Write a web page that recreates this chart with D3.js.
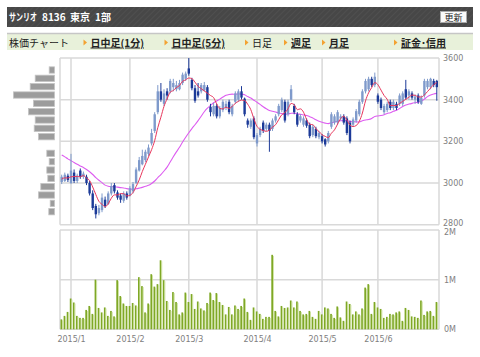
<!DOCTYPE html>
<html>
<head>
<meta charset="utf-8">
<script src="https://cdn.jsdelivr.net/npm/d3@7"></script>
<style>
  body { margin: 0; background: #fff; }
  svg { display: block; }
</style>
</head>
<body>
<div id="chart"></div>
<script>
// daily prices, 2014/12/26 .. 2015/6/26 (one entry per trading day)
var open = [3005,3010,3035,3000,3050,3010,3060,3030,3030,3000,
  2950,2890,2855,2870,2920,2900,2950,2990,2955,2940,
  2915,2950,2940,2960,3000,3060,3090,3110,3140,3190,
  3250,3340,3440,3380,3440,3440,3460,3450,3450,3480,
  3500,3550,3495,3455,3440,3440,3445,3460,3366,3330,
  3370,3320,3350,3360,3390,3330,3390,3400,3440,3405,
  3300,3270,3310,3190,3230,3290,3260,3280,3260,3300,
  3330,3350,3390,3330,3400,3370,3330,3300,3280,3300,
  3280,3230,3260,3220,3225,3210,3200,3270,3290,3290,
  3310,3320,3310,3290,3280,3300,3330,3390,3440,3450,
  3500,3470,3420,3400,3340,3350,3390,3360,3380,3380,
  3380,3450,3420,3430,3400,3420,3380,3420,3460,3460,
  3490,3490];
var high = [3040,3050,3045,3140,3065,3045,3070,3055,3040,3010,
  2965,2900,2895,2950,2935,2960,3000,3000,2965,2950,
  2960,2960,2985,3005,3075,3125,3160,3160,3185,3260,
  3340,3470,3480,3450,3455,3500,3500,3490,3495,3530,
  3535,3600,3505,3470,3480,3480,3485,3470,3380,3385,
  3380,3370,3400,3395,3400,3380,3440,3450,3465,3410,
  3310,3310,3320,3240,3270,3300,3290,3290,3310,3330,
  3380,3410,3400,3400,3470,3380,3340,3330,3320,3310,
  3290,3280,3270,3250,3235,3215,3250,3340,3330,3350,
  3330,3330,3320,3300,3315,3355,3400,3450,3500,3510,
  3510,3530,3430,3410,3380,3390,3400,3400,3390,3430,
  3440,3495,3450,3440,3425,3430,3420,3500,3500,3505,
  3500,3495];
var low = [2995,3005,3005,2995,3000,3000,3020,3020,2990,2940,
  2870,2830,2845,2860,2880,2895,2940,2950,2920,2905,
  2905,2920,2935,2950,2995,3055,3085,3100,3130,3180,
  3240,3330,3390,3370,3400,3430,3440,3440,3445,3470,
  3490,3515,3445,3385,3410,3430,3440,3390,3320,3320,
  3310,3310,3340,3350,3330,3320,3380,3390,3400,3320,
  3265,3260,3210,3175,3220,3240,3250,3150,3250,3290,
  3320,3340,3290,3320,3390,3330,3270,3290,3270,3265,
  3215,3220,3215,3210,3190,3175,3190,3260,3280,3280,
  3300,3280,3230,3190,3270,3290,3320,3380,3430,3440,
  3460,3460,3380,3350,3330,3340,3350,3350,3350,3370,
  3370,3400,3400,3400,3380,3380,3375,3410,3450,3450,
  3460,3395];
var close = [3030,3040,3015,3060,3010,3035,3030,3045,3000,2950,
  2880,2850,2880,2930,2890,2950,2985,2960,2930,2920,
  2950,2930,2975,2995,3065,3110,3130,3150,3170,3240,
  3330,3440,3400,3430,3420,3490,3480,3470,3480,3520,
  3525,3525,3455,3395,3420,3470,3470,3400,3340,3370,
  3320,3360,3390,3380,3340,3370,3430,3440,3410,3330,
  3280,3300,3220,3230,3260,3250,3280,3250,3300,3320,
  3370,3400,3300,3390,3450,3340,3280,3320,3310,3275,
  3225,3270,3225,3240,3200,3185,3240,3330,3320,3340,
  3320,3290,3240,3200,3305,3345,3390,3440,3490,3500,
  3470,3510,3390,3360,3370,3380,3360,3390,3360,3420,
  3430,3410,3440,3410,3415,3390,3410,3490,3490,3500,
  3470,3460];
var volume = [200,270,350,620,540,270,230,230,390,470,
  310,1000,430,340,440,270,370,260,990,670,
  520,470,470,530,480,1050,870,340,520,1110,
  860,910,1390,990,570,390,750,550,300,340,
  740,550,710,410,560,420,380,530,740,590,
  730,550,490,300,450,300,480,410,470,620,
  350,190,440,360,310,210,250,250,1500,370,
  260,470,430,440,580,440,560,370,300,310,
  370,250,210,370,300,440,420,310,230,460,
  240,170,560,510,300,360,300,420,840,910,
  310,550,440,410,230,250,310,300,340,360,
  170,430,390,260,250,230,580,290,360,370,
  270,550].map(function(v){ return v * 1000; });
// closes of the 24 sessions before the window (needed for the moving averages)
var prevCloses = [3260,3250,3270,3240,3250,3230,3240,3220,3230,3210,3220,3200,
  3210,3190,3080,3030,2990,2970,2980,2990,3010,3020,3030,3005];

var monthStart = [3, 22, 41, 63, 84, 102];
var monthLabels = ["2015/1","2015/2","2015/3","2015/4","2015/5","2015/6"];
var priceTicks = [2800, 3000, 3200, 3400, 3600];
var volTicks = [0, 1000000, 2000000];

// volume by price (40 yen bins, lower bound)
var profileBins = [3520,3480,3440,3400,3360,3320,3280,3240,3200,3160,3120,3080,3040,3000,2960,2920,2880,2840];
var profileVol = [530,1930,2430,4100,2100,2600,1930,2030,1600,0,770,530,770,670,1370,1600,430,570];

var W = 480, H = 357;
var svg = d3.select("#chart").append("svg")
    .attr("width", W).attr("height", H);

var jp = "'Noto Sans CJK JP', sans-serif";
var num = "'DejaVu Sans', sans-serif";

// ---- header bar
var defs = svg.append("defs");
var pat = defs.append("pattern")
    .attr("id", "hatch").attr("width", 4).attr("height", 4)
    .attr("patternUnits", "userSpaceOnUse")
    .attr("patternTransform", "rotate(45)");
pat.append("rect").attr("width", 4).attr("height", 4).attr("fill", "#474747");
pat.append("line").attr("x1", 0).attr("y1", 0).attr("x2", 0).attr("y2", 4)
    .attr("stroke", "#525252").attr("stroke-width", 1.5);

svg.append("rect").attr("x", 7).attr("y", 7).attr("width", 466).attr("height", 20)
    .attr("fill", "url(#hatch)");
var headParts = [
  {t: "サンリオ", x: 9, sx: 0.7},
  {t: "8136", x: 42, sx: 1},
  {t: "東京", x: 70, sx: 1},
  {t: "1部", x: 95, sx: 1}
];
headParts.forEach(function(p) {
  svg.append("text")
      .attr("transform", "translate(" + p.x + ",20.5) scale(" + p.sx + ",1)")
      .attr("fill", "#fff")
      .style("font-family", jp).style("font-size", "10px").style("font-weight", "bold")
      .text(p.t);
});

svg.append("rect").attr("x", 440.5).attr("y", 11.5).attr("width", 26).attr("height", 11)
    .attr("fill", "#fafafa").attr("stroke", "#aaa");
svg.append("text").attr("x", 453.5).attr("y", 20.5).attr("text-anchor", "middle")
    .style("font-family", jp).style("font-size", "9px").attr("fill", "#222").text("更新");

// ---- nav bar
svg.append("rect").attr("x", 7).attr("y", 33).attr("width", 466).attr("height", 17)
    .attr("fill", "#e8f1da");
svg.append("line").attr("x1", 7).attr("x2", 473).attr("y1", 33.5).attr("y2", 33.5)
    .attr("stroke", "#c6c6c6").attr("stroke-width", 1.5);
svg.append("text").attr("x", 9).attr("y", 46.5)
    .style("font-family", jp).style("font-size", "10px").attr("fill", "#222").text("株価チャート");

var nav = [
  {t: "日中足(1分)", x: 90.5, bold: true},
  {t: "日中足(5分)", x: 171.5, bold: true},
  {t: "日足", x: 252, bold: false},
  {t: "週足", x: 291, bold: true},
  {t: "月足", x: 329, bold: true},
  {t: "証金･信用", x: 401, bold: true}
];
nav.forEach(function(n) {
  var tx = n.x - 7;
  svg.append("path")
      .attr("d", "M" + tx + ",39.5 L" + (tx + 3.5) + ",42.5 L" + tx + ",45.5 Z")
      .attr("fill", "#f3a232");
  svg.append("text").attr("x", n.x).attr("y", 46.5)
      .style("font-family", jp).style("font-size", "10px")
      .style("font-weight", n.bold ? "bold" : "normal")
      .style("text-decoration", n.bold ? "underline" : "none")
      .attr("fill", "#222").text(n.t);
});

// ---- scales
var n = close.length;
var x = d3.scalePoint().domain(d3.range(n)).range([61.7, 61.7 + (n - 1) * 3.1]);
var y = d3.scaleLinear().domain([2800, 3600]).range([224.7, 58]);
var yv = d3.scaleLinear().domain([0, 2000000]).range([329.3, 230]);
var left = 60, right = 439;
var gridColor = "#d9d9d9";

function panel(top, bottom, ys, ticks) {
  var g = svg.append("g");
  g.selectAll(".h").data(ticks).enter().append("line")
      .attr("x1", left).attr("x2", right)
      .attr("y1", function(d){ return ys(d); }).attr("y2", function(d){ return ys(d); })
      .attr("stroke", gridColor).attr("stroke-width", 1.5);
  g.selectAll(".v").data(monthStart).enter().append("line")
      .attr("x1", function(d){ return x(d); }).attr("x2", function(d){ return x(d); })
      .attr("y1", top).attr("y2", bottom)
      .attr("stroke", gridColor).attr("stroke-width", 1.5);
  g.append("line").attr("x1", left).attr("x2", left).attr("y1", top).attr("y2", bottom)
      .attr("stroke", gridColor).attr("stroke-width", 1.5);
  g.append("line").attr("x1", right).attr("x2", right).attr("y1", top).attr("y2", bottom)
      .attr("stroke", gridColor).attr("stroke-width", 1.5);
  return g;
}
panel(58, 224.7, y, priceTicks);
panel(230, 329.3, yv, volTicks);

// ---- right axes
var ax1 = svg.append("g").attr("transform", "translate(" + right + ",0)")
    .call(d3.axisRight(y).tickValues(priceTicks).tickSize(0).tickPadding(4).tickFormat(d3.format("d")));
var ax2 = svg.append("g").attr("transform", "translate(" + right + ",0)")
    .call(d3.axisRight(yv).tickValues(volTicks).tickSize(0).tickPadding(5)
      .tickFormat(function(d){ return (d / 1000000) + "M"; }));
var ax3 = svg.append("g").attr("transform", "translate(0,329.3)")
    .call(d3.axisBottom(x).tickValues(monthStart).tickSize(0).tickPadding(7)
      .tickFormat(function(d, i){ return monthLabels[i]; }));
[ax1, ax2, ax3].forEach(function(a) {
  a.select(".domain").remove();
  a.selectAll("text").style("font-family", num).style("font-size", "8px").attr("fill", "#808080");
});
// bottom price label and top volume label sit very close; nudge them apart
ax1.selectAll(".tick").filter(function(d){ return d === 2800; }).select("text").attr("dy", "0.1em");
ax2.selectAll(".tick").filter(function(d){ return d === 2000000; }).select("text").attr("dy", "0.62em");

// ---- volume profile (left)
var yb = function(b) { return y(b + 40); };
var pw = d3.scaleLinear().domain([0, 4100]).range([0, 41]);
svg.append("g").selectAll("rect").data(profileBins).enter().append("rect")
    .attr("x", function(d, i){ return 54.5 - pw(profileVol[i]); })
    .attr("y", function(d){ return yb(d) + 0.5; })
    .attr("width", function(d, i){ return pw(profileVol[i]); })
    .attr("height", function(d){ return y(d) - yb(d) - 2; })
    .attr("fill", "#9c9c9c").attr("stroke", "#c4c4c4").attr("stroke-width", 0.8)
    .style("display", function(d, i){ return profileVol[i] > 0 ? null : "none"; });

// ---- volume bars
var vg = svg.append("g");
vg.selectAll(".vd").data(volume).enter().append("rect")
    .attr("x", function(d, i){ return x(i) - 1.2; })
    .attr("y", function(d){ return yv(d); })
    .attr("width", 1.7)
    .attr("height", function(d){ return yv(0) - yv(d); })
    .attr("fill", "#7fa826");
vg.selectAll(".vl").data(volume).enter().append("rect")
    .attr("x", function(d, i){ return x(i) + 0.5; })
    .attr("y", function(d){ return yv(d) + 1; })
    .attr("width", 0.8)
    .attr("height", function(d){ return Math.max(0, yv(0) - yv(d) - 1); })
    .attr("fill", "#c7de92");

// ---- moving averages
var all = prevCloses.concat(close);
function ma(k) {
  return close.map(function(c, i) {
    var j = i + prevCloses.length;
    return d3.mean(all.slice(j - k + 1, j + 1));
  });
}
var line = d3.line().x(function(d, i){ return x(i); }).y(function(d){ return y(d); })
    .curve(d3.curveMonotoneX);
svg.append("path").datum(ma(25)).attr("d", line)
    .attr("fill", "none").attr("stroke", "#dd5cf0").attr("stroke-width", 1.1);

// ---- candles
var upCol = "#7f9acb", dnCol = "#1c3a98";
var cg = svg.append("g");
var idx = d3.range(n);
cg.selectAll(".wick").data(idx).enter().append("line")
    .attr("x1", function(i){ return x(i); }).attr("x2", function(i){ return x(i); })
    .attr("y1", function(i){ return y(high[i]); }).attr("y2", function(i){ return y(low[i]); })
    .attr("stroke", function(i){ return close[i] >= open[i] ? upCol : dnCol; })
    .attr("stroke-width", 1);
cg.selectAll(".body").data(idx).enter().append("rect")
    .attr("x", function(i){ return x(i) - 1.2; })
    .attr("width", 2.4)
    .attr("y", function(i){ return y(Math.max(open[i], close[i])); })
    .attr("height", function(i){ return Math.max(1, Math.abs(y(open[i]) - y(close[i]))); })
    .attr("fill", function(i){ return close[i] >= open[i] ? upCol : dnCol; });

svg.append("path").datum(ma(5)).attr("d", line)
    .attr("fill", "none").attr("stroke", "#e8365c").attr("stroke-width", 1);
</script>
</body>
</html>
